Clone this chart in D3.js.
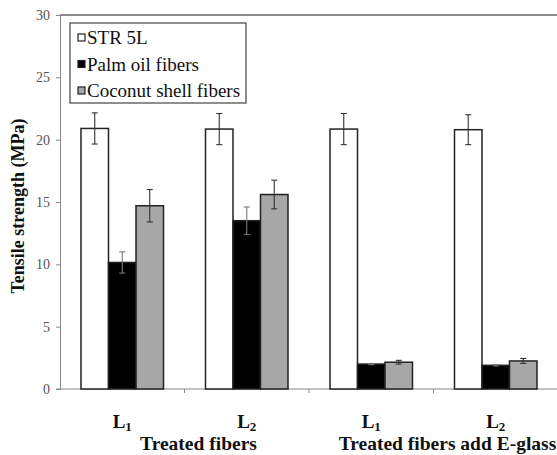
<!DOCTYPE html>
<html>
<head>
<meta charset="utf-8">
<script src="https://cdn.jsdelivr.net/npm/d3@7"></script>
<style>
  html, body { margin: 0; padding: 0; background: #fff; }
  svg { display: block; }
</style>
</head>
<body>
<svg id="chart" width="557" height="455"></svg>
<script>
// ---- data ----
const categories = ["T-L1", "T-L2", "G-L1", "G-L2"];
const categoryLabels = ["1", "2", "1", "2"];
const seriesNames = ["STR 5L", "Palm oil fibers", "Coconut shell fibers"];
const strValues = [20.9, 20.85, 20.85, 20.8];
const palmValues = [10.15, 13.5, 2.0, 1.9];
const coconutValues = [14.7, 15.6, 2.15, 2.25];
const strErrors = [1.25, 1.25, 1.25, 1.2];
const palmErrors = [0.85, 1.1, 0.05, 0.05];
const coconutErrors = [1.3, 1.15, 0.15, 0.2];
const yTicks = [0, 5, 10, 15, 20, 25, 30];
const groupLabels = ["Treated fibers", "Treated fibers add E-glass"];

const seriesValues = [strValues, palmValues, coconutValues];
const seriesErrors = [strErrors, palmErrors, coconutErrors];
const fills = ["#ffffff", "#000000", "#a7a7a7"];
const SERIF = '"Liberation Serif"';

const svg = d3.select("#chart");
const pLeft = 60, pRight = 558, pTop = 15, pBottom = 389;

const x = d3.scaleBand().domain(categories).range([pLeft, pRight]).paddingInner(0).paddingOuter(0);
const xs = d3.scaleBand().domain(d3.range(seriesNames.length)).range([0, 82.5]);
const groupOffset = (x.bandwidth() - 82.5) / 2;
const y = d3.scaleLinear().domain([0, 30]).range([pBottom, pTop]);

// frame top line
svg.append("line").attr("x1", pLeft).attr("x2", 557).attr("y1", pTop).attr("y2", pTop)
  .attr("stroke", "#666").attr("stroke-width", 1.5);

// y axis
const yAxis = svg.append("g").attr("transform", `translate(${pLeft},0)`)
  .call(d3.axisLeft(y).tickValues(yTicks).tickSize(4).tickPadding(6));
yAxis.select(".domain").attr("stroke", "#888").attr("stroke-width", 1);
yAxis.selectAll(".tick line").attr("stroke", "#888");
yAxis.selectAll(".tick text").style("font-family", SERIF).style("font-size", "14px").attr("fill", "#555");

// x axis
const xAxis = svg.append("g").attr("transform", `translate(0,${pBottom})`);
xAxis.append("line").attr("x1", pLeft - 4).attr("x2", 557).attr("y1", 0).attr("y2", 0)
  .attr("stroke", "#888").attr("stroke-width", 1.2);
xAxis.selectAll(".xt").data(categories.slice(1)).enter().append("line")
  .attr("x1", d => x(d)).attr("x2", d => x(d)).attr("y1", 0).attr("y2", 4)
  .attr("stroke", "#888");

// bars
const rows = [];
categories.forEach((c, i) => {
  seriesNames.forEach((s, j) => {
    rows.push({ c, j, v: seriesValues[j][i], e: seriesErrors[j][i] });
  });
});
const bx = d => x(d.c) + groupOffset + xs(d.j);
svg.append("g").selectAll("rect").data(rows).enter().append("rect")
  .attr("x", bx)
  .attr("y", d => y(d.v))
  .attr("width", xs.bandwidth())
  .attr("height", d => y(0) - y(d.v))
  .attr("fill", d => fills[d.j])
  .attr("stroke", "#222").attr("stroke-width", 1.5);

// error bars
const eg = svg.append("g").attr("stroke-width", 1.1);
rows.forEach(d => {
  const cx = bx(d) + xs.bandwidth() / 2;
  const y1 = y(d.v + d.e), y2 = y(d.v - d.e);
  const col = d.j === 1 ? "#777" : "#333";
  eg.append("line").attr("x1", cx).attr("x2", cx).attr("y1", y1).attr("y2", y2).attr("stroke", col);
  eg.append("line").attr("x1", cx - 3).attr("x2", cx + 3).attr("y1", y1).attr("y2", y1).attr("stroke", col);
  eg.append("line").attr("x1", cx - 3).attr("x2", cx + 3).attr("y1", y2).attr("y2", y2).attr("stroke", col);
});

// category labels L1 / L2
categories.forEach((c, i) => {
  const t = svg.append("text")
    .attr("x", x(c) + x.bandwidth() / 2)
    .attr("y", 428)
    .attr("text-anchor", "middle")
    .style("font-family", SERIF).style("font-weight", "bold")
    .style("font-size", "19px").attr("fill", "#111");
  t.append("tspan").text("L");
  t.append("tspan").style("font-size", "13px").attr("dy", 3).text(categoryLabels[i]);
});

// group labels
[[0, 1], [2, 3]].forEach((pair, k) => {
  const cx = (x(categories[pair[0]]) + x(categories[pair[1]]) + x.bandwidth()) / 2 + 14;
  svg.append("text").attr("x", cx).attr("y", 450)
    .attr("text-anchor", "middle")
    .style("font-family", SERIF).style("font-weight", "bold")
    .style("font-size", "19.5px").attr("fill", "#111")
    .text(groupLabels[k]);
});

// y title
svg.append("text")
  .attr("transform", `translate(24,${(pTop + pBottom) / 2 + 4}) rotate(-90)`)
  .attr("text-anchor", "middle")
  .style("font-family", SERIF).style("font-weight", "bold")
  .style("font-size", "18px").attr("fill", "#111")
  .text("Tensile strength (MPa)");

// legend
const lg = svg.append("g");
lg.append("rect").attr("x", 70).attr("y", 23).attr("width", 176).attr("height", 80)
  .attr("fill", "#fff").attr("stroke", "#444").attr("stroke-width", 1.2);
seriesNames.forEach((s, j) => {
  const by = 44 + j * 26.5;
  lg.append("rect").attr("x", 78).attr("y", by - 10).attr("width", 7).attr("height", 7)
    .attr("fill", fills[j]).attr("stroke", "#222").attr("stroke-width", 1.2);
  lg.append("text").attr("x", 87).attr("y", by)
    .style("font-family", SERIF).style("font-size", "19px").attr("fill", "#111")
    .text(s);
});
</script>
</body>
</html>
